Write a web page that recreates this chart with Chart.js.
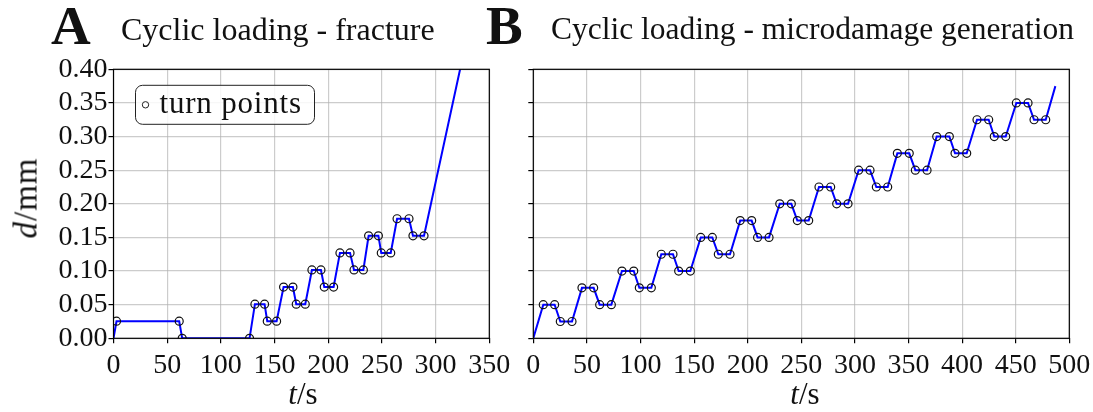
<!DOCTYPE html>
<html>
<head>
<meta charset="utf-8">
<script src="https://cdn.jsdelivr.net/npm/chart.js@4.4.1/dist/chart.umd.min.js"></script>
<style>
  body { margin: 0; background: #fff; width: 1093px; height: 412px; overflow: hidden; position: relative;
         font-family: "Liberation Serif", serif; color: #111; }
  canvas { position: absolute; top: 0; }
  .lbl { position: absolute; white-space: nowrap; line-height: 1; }
  .panel { font-weight: bold; font-size: 55px; }
  .ttl { font-size: 32px; }
  .ax { font-size: 31px; transform: translateX(-50%); }
  .ylab { font-size: 33px; transform: translate(-50%, -50%) rotate(-90deg); letter-spacing: 1px; }
</style>
</head>
<body>
<canvas id="left" width="510" height="412" style="left:0"></canvas>
<canvas id="right" width="573" height="412" style="left:520px"></canvas>

<div class="lbl panel" style="left:51px; top:-2px">A</div>
<div class="lbl ttl" style="left:121px; top:13px">Cyclic loading - fracture</div>
<div class="lbl panel" style="left:486px; top:-2px">B</div>
<div class="lbl ttl" style="left:551px; top:13px; font-size:31.5px">Cyclic loading - microdamage generation</div>
<div class="lbl ylab" style="left:26px; top:198px"><i>d</i>/mm</div>
<div class="lbl ax" style="left:303px; top:378px"><i>t</i>/s</div>
<div class="lbl ax" style="left:805px; top:378px"><i>t</i>/s</div>

<script>
// A: cyclic loading until fracture (turn points in steps of 0.0254 mm)
const fractureTime = [0, 2.8, 61.2, 64.0, 126.7, 131.7, 140.7, 143.2, 151.9, 158.4, 167.1,
  170.2, 178.6, 184.8, 193.2, 196.3, 205.0, 210.9, 220.3, 224.0, 232.7, 237.6, 246.7,
  249.4, 258.2, 264.1, 275.2, 278.9, 289.2, 322.8];
const fractureDisp = [0, 0.0254, 0.0254, 0, 0, 0.0508, 0.0508, 0.0254, 0.0254, 0.0762, 0.0762,
  0.0508, 0.0508, 0.1016, 0.1016, 0.0762, 0.0762, 0.127, 0.127, 0.1016, 0.1016, 0.1524, 0.1524,
  0.127, 0.127, 0.1778, 0.1778, 0.1524, 0.1524, 0.40];

// B: cyclic loading for microdamage generation
const damageTime = [0, 9.3, 19.9, 25.2, 36.1, 45.4, 56.3, 61.9, 72.8, 82.7, 93.7, 98.9, 110.1,
  119.4, 130.3, 135.6, 146.5, 156.2, 167, 172.6, 183.5, 193, 203.7, 209.2, 219.9,
  229.9, 240.7, 246.3, 256.9, 266.5, 277.4, 283, 293.6, 303.5, 314.1, 320, 330.6,
  339.6, 350.7, 356.4, 367.3, 376.3, 388.1, 393.4, 404.3, 413.9, 424.8, 430, 440.7,
  450.6, 461.5, 467.1, 478, 487];
const damageDisp = [0, 0.05, 0.05, 0.025, 0.025, 0.075, 0.075, 0.05, 0.05, 0.1, 0.1, 0.075, 0.075,
  0.125, 0.125, 0.1, 0.1, 0.15, 0.15, 0.125, 0.125, 0.175, 0.175, 0.15, 0.15,
  0.2, 0.2, 0.175, 0.175, 0.225, 0.225, 0.2, 0.2, 0.25, 0.25, 0.225, 0.225,
  0.275, 0.275, 0.25, 0.25, 0.3, 0.3, 0.275, 0.275, 0.325, 0.325, 0.3, 0.3,
  0.35, 0.35, 0.325, 0.325, 0.375];

const fractureTicksX = [0, 50, 100, 150, 200, 250, 300, 350];
const damageTicksX = [0, 50, 100, 150, 200, 250, 300, 350, 400, 450, 500];
const dispTicks = [0, 0.05, 0.10, 0.15, 0.20, 0.25, 0.30, 0.35, 0.40];
const legendLabel = "turn points";

const gridColor = "rgba(176,176,176,0.65)";
const tickFont = { family: "Liberation Serif", size: 28 };

// full black box around the plot area
const framePlugin = {
  id: "frame",
  afterDraw(chart) {
    const { ctx, chartArea: a } = chart;
    ctx.save();
    ctx.strokeStyle = "#000";
    ctx.lineWidth = 1.2;
    ctx.strokeRect(a.left, a.top, a.right - a.left, a.bottom - a.top);
    ctx.restore();
  }
};

// boxed legend inside the plot, like the matplotlib one
const turnLegend = {
  id: "turnLegend",
  afterDraw(chart, args, opts) {
    if (!opts.show) return;
    const { ctx, chartArea: a } = chart;
    const x = a.left + 22, y = a.top + 16, w = 179, h = 39;
    ctx.save();
    ctx.beginPath();
    ctx.roundRect(x, y, w, h, 7);
    ctx.fillStyle = "rgba(255,255,255,0.85)";
    ctx.fill();
    ctx.strokeStyle = "#222";
    ctx.lineWidth = 1;
    ctx.stroke();
    ctx.beginPath();
    ctx.arc(x + 10, y + h / 2, 3.2, 0, Math.PI * 2);
    ctx.stroke();
    ctx.fillStyle = "#111";
    ctx.font = "31px 'Liberation Serif'";
    ctx.letterSpacing = "0.8px";
    ctx.textBaseline = "alphabetic";
    ctx.fillText(chart.data.datasets[0].label, x + 24, y + 28);
    ctx.restore();
  }
};

function makeChart(id, time, disp, xTicks, yWidth, padRight, showYLabels, showLegend) {
  const pts = time.map((t, i) => ({ x: t, y: disp[i] }));
  return new Chart(document.getElementById(id), {
    type: "line",
    data: {
      datasets: [{
        label: legendLabel,
        data: pts,
        borderColor: "#0000ff",
        borderWidth: 2,
        tension: 0,
        fill: false,
        pointRadius: c => (c.dataIndex === 0 || c.dataIndex === pts.length - 1) ? 0 : 4,
        pointBorderColor: "#111",
        pointBorderWidth: 1.2,
        pointBackgroundColor: "rgba(0,0,0,0)",
      }]
    },
    options: {
      responsive: false,
      animation: false,
      devicePixelRatio: 1,
      layout: { autoPadding: false, padding: { top: 69.3, right: padRight, left: 0, bottom: 0 } },
      plugins: {
        legend: { display: false },
        tooltip: { enabled: false },
        turnLegend: { show: showLegend }
      },
      scales: {
        x: {
          type: "linear",
          min: xTicks[0],
          max: xTicks[xTicks.length - 1],
          afterBuildTicks: s => { s.ticks = xTicks.map(v => ({ value: v })); },
          afterFit: s => { s.height = 73.7; s.paddingLeft = 0; s.paddingRight = 0; },
          grid: { color: gridColor, lineWidth: 1.2, tickColor: "#000", tickLength: 5 },
          border: { display: false },
          ticks: { color: "#111", font: tickFont, padding: 6, maxRotation: 0, autoSkip: false,
                   callback: v => String(v) }
        },
        y: {
          min: dispTicks[0],
          max: dispTicks[dispTicks.length - 1],
          afterBuildTicks: s => { s.ticks = dispTicks.map(v => ({ value: v })); },
          afterFit: s => { s.width = yWidth; s.paddingTop = 0; s.paddingBottom = 0; },
          grid: { color: gridColor, lineWidth: 1.2, tickColor: "#000", tickLength: 5 },
          border: { display: false },
          ticks: { display: showYLabels, color: "#111", font: tickFont, padding: 1, autoSkip: false,
                   callback: v => v.toFixed(2) }
        }
      }
    },
    plugins: [framePlugin, turnLegend]
  });
}

makeChart("left", fractureTime, fractureDisp, fractureTicksX, 113.5, 20.7, true, true);
makeChart("right", damageTime, damageDisp, damageTicksX, 13.3, 23.7, false, false);
</script>
</body>
</html>
